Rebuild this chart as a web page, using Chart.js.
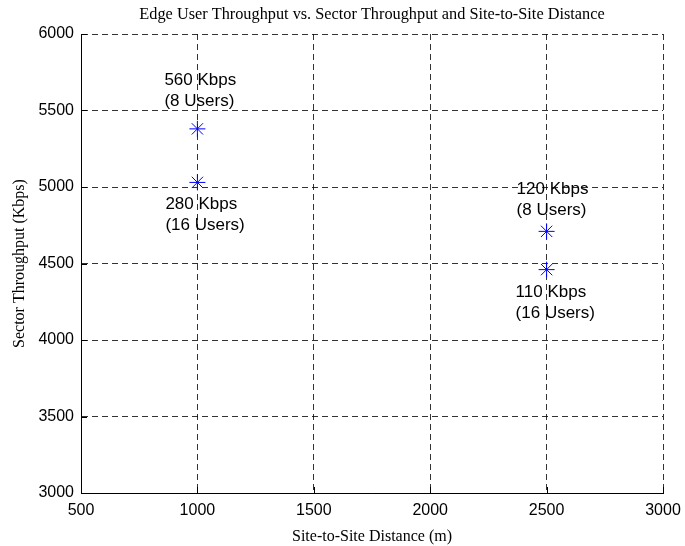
<!DOCTYPE html>
<html>
<head>
<meta charset="utf-8">
<script src="https://cdn.jsdelivr.net/npm/chart.js@4.4.0/dist/chart.umd.min.js"></script>
<style>
  body { margin: 0; background: #fff; }
  #wrap { width: 685px; height: 546px; }
</style>
</head>
<body>
<div id="wrap"><canvas id="scatter" width="685" height="546"></canvas></div>
<script>
// site-to-site distance (m) and sector throughput (Kbps)
const distance = [1000, 1000, 2500, 2500];
const throughput = [5380, 5030, 4710, 4460];
// annotation text for each point
const rateLabels = ['560 Kbps', '280 Kbps', '120 Kbps', '110 Kbps'];
const userLabels = ['(8 Users)', '(16 Users)', '(8 Users)', '(16 Users)'];
const xTicks = [500, 1000, 1500, 2000, 2500, 3000];
const yTicks = [3000, 3500, 4000, 4500, 5000, 5500, 6000];
const chartTitle = 'Edge User Throughput vs. Sector Throughput and Site-to-Site Distance';

const sans = "'Liberation Sans', Arial, sans-serif";
const serif = "'Liberation Serif', 'Times New Roman', serif";

// pixel offsets of the first text line from its point (layout only)
const labelDx = [-33, -32, -30, -31];
const labelDy = [-49, 22, -42, 23];

const annotations = {
  id: 'annotations',
  beforeDatasetsDraw(chart) {
    // small inward tick marks, matlab style
    const { ctx, chartArea, scales } = chart;
    ctx.save();
    ctx.strokeStyle = '#000';
    ctx.lineWidth = 1;
    ctx.beginPath();
    xTicks.forEach(v => {
      const x = Math.round(scales.x.getPixelForValue(v)) + 0.5;
      ctx.moveTo(x, chartArea.bottom);
      ctx.lineTo(x, chartArea.bottom - 6);
    });
    yTicks.forEach(v => {
      const y = Math.round(scales.y.getPixelForValue(v)) + 0.5;
      ctx.moveTo(chartArea.left, y);
      ctx.lineTo(chartArea.left + 6, y);
    });
    ctx.stroke();
    ctx.restore();
  },
  afterDatasetsDraw(chart) {
    const { ctx, chartArea } = chart;
    const meta = chart.getDatasetMeta(0);
    ctx.save();
    ctx.fillStyle = '#000';
    ctx.font = '17px ' + sans;
    ctx.textAlign = 'left';
    ctx.textBaseline = 'middle';
    meta.data.forEach((pt, i) => {
      const x = pt.x + labelDx[i];
      const y = pt.y + labelDy[i];
      ctx.fillText(rateLabels[i], x, y);
      ctx.fillText(userLabels[i], x, y + 21);
    });
    // title centred over the plot box
    ctx.font = '16.3px ' + serif;
    ctx.textAlign = 'center';
    ctx.fillText(chartTitle, (chartArea.left + chartArea.right) / 2, 15);
    ctx.restore();
  }
};

new Chart(document.getElementById('scatter'), {
  type: 'scatter',
  data: {
    datasets: [{
      data: distance.map((d, i) => ({ x: d, y: throughput[i] })),
      pointStyle: 'star',
      pointRadius: 8,
      pointHoverRadius: 8,
      borderColor: '#0000ff',
      backgroundColor: '#0000ff',
      pointBorderWidth: 1
    }]
  },
  options: {
    responsive: false,
    animation: false,
    events: [],
    layout: { padding: { top: 34, right: 22, left: 0, bottom: 0 } },
    plugins: {
      legend: { display: false },
      tooltip: { enabled: false }
    },
    scales: {
      x: {
        type: 'linear',
        min: 500,
        max: 3000,
        afterBuildTicks: s => { s.ticks = xTicks.map(v => ({ value: v })); },
        afterFit: s => { s.height = 53; s.paddingLeft = 0; s.paddingRight = 0; },
        ticks: { color: '#000', font: { family: sans, size: 16 }, padding: 8, callback: v => String(v) },
        grid: { color: 'rgba(0,0,0,0.8)', lineWidth: 1, drawTicks: false },
        border: { display: true, color: '#000', width: 1, dash: [6, 4] },
        title: {
          display: true,
          text: 'Site-to-Site Distance (m)',
          color: '#000',
          font: { family: serif, size: 16 },
          padding: { top: 4, bottom: 0 }
        }
      },
      y: {
        type: 'linear',
        min: 3000,
        max: 6000,
        afterBuildTicks: s => { s.ticks = yTicks.map(v => ({ value: v })); },
        afterFit: s => { s.width = 81; s.paddingTop = 0; s.paddingBottom = 0; },
        ticks: { color: '#000', font: { family: sans, size: 16 }, padding: 7, callback: v => String(v) },
        grid: { color: 'rgba(0,0,0,0.8)', lineWidth: 1, drawTicks: false },
        border: { display: true, color: '#000', width: 1, dash: [6, 4] },
        title: {
          display: true,
          text: 'Sector Throughput (Kbps)',
          color: '#000',
          font: { family: serif, size: 16 },
          padding: { top: 10, bottom: 4 }
        }
      }
    }
  },
  plugins: [annotations]
});
</script>
</body>
</html>
